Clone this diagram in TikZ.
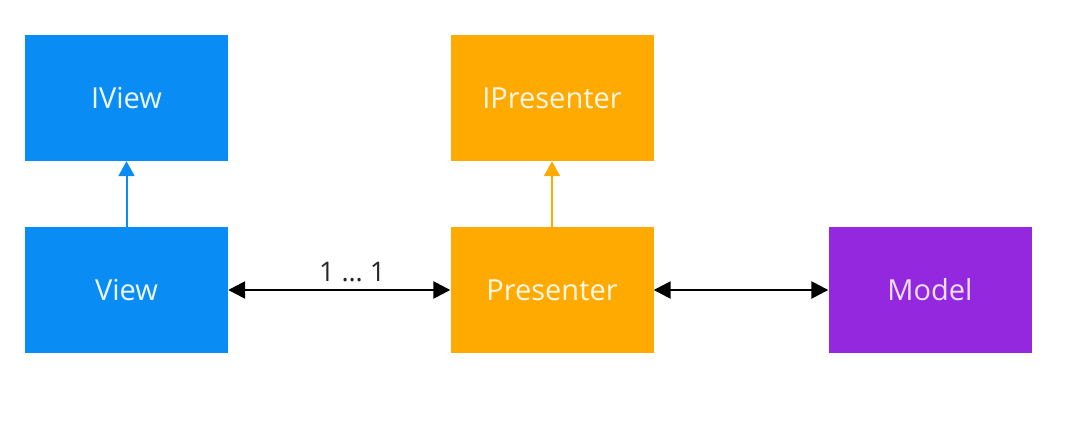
\documentclass[tikz,border=0pt]{standalone}
\usepackage{fontspec}
\setmainfont{Open Sans}
\usetikzlibrary{arrows.meta}
\definecolor{vblue}{HTML}{0A8CF5}
\definecolor{porange}{HTML}{FFAA00}
\definecolor{mpurple}{HTML}{9328DE}
\begin{document}
\begin{tikzpicture}[x=1pt,y=-1pt,
  box/.style={minimum width=203pt,minimum height=126pt,inner sep=0pt,font=\fontsize{29}{33}\selectfont},
  bluebox/.style={box,fill=vblue,text=white!92!vblue},
  orangebox/.style={box,fill=porange,text=white!90!porange},
  purplebox/.style={box,fill=mpurple,text=white!85!mpurple},
  inh/.style={line width=2pt,-{Triangle[length=15pt,width=16pt]}},
  assoc/.style={line width=2.6pt,black,{Triangle[length=17pt,width=17pt]}-{Triangle[length=17pt,width=17pt]}}]
\useasboundingbox (0,0) rectangle (1074,428);
\fill[white] (0,0) rectangle (1074,428);
\node[bluebox] (iview) at (126.5,98) {IView};
\node[bluebox] (view) at (126.5,290) {View};
\node[orangebox] (ipres) at (552,98) {IPresenter};
\node[orangebox] (pres) at (552,290) {Presenter};
\node[purplebox] (model) at (930,290) {Model};
\draw[inh,vblue] (view) -- (iview);
\draw[inh,porange] (pres) -- (ipres);
\draw[assoc] (view) -- node[above=3pt,xshift=13pt,font=\fontsize{27}{31}\selectfont,text=black!85] (lbl) {1 … 1} (pres);
\draw[assoc] (pres) -- (model);
\end{tikzpicture}
\end{document}
